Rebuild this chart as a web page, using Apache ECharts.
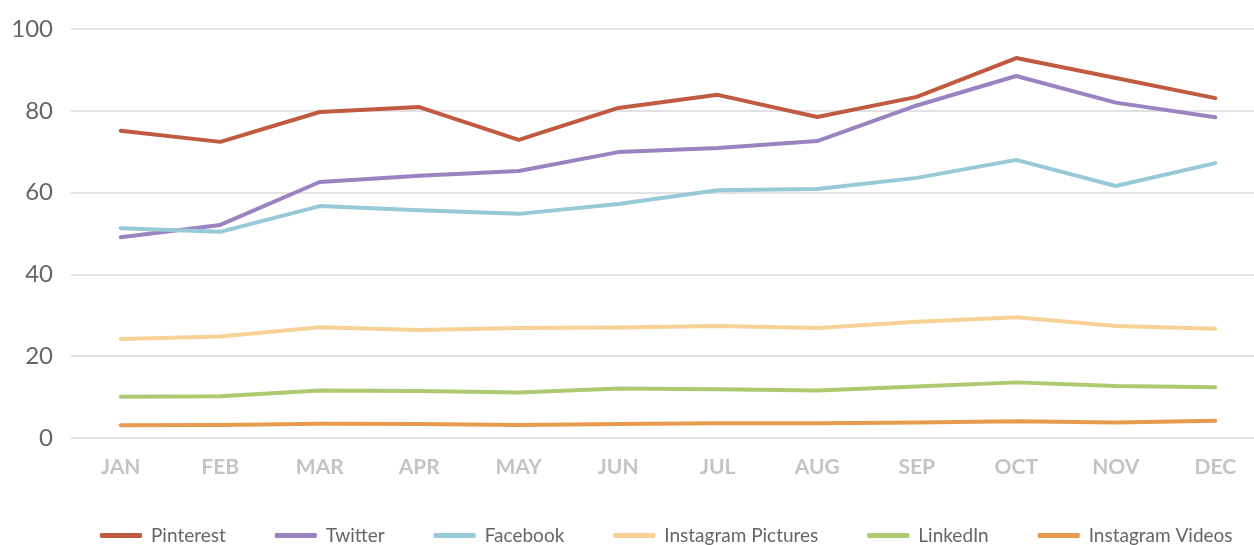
<!DOCTYPE html>
<html>
<head>
<meta charset="utf-8">
<script src="https://cdn.jsdelivr.net/npm/echarts@6/dist/echarts.min.js"></script>
<style>
  html, body { margin: 0; padding: 0; background: #fff; overflow: hidden; }
  #chart { width: 1265px; height: 545px; }
</style>
</head>
<body>
<div id="chart"></div>
<script>
var months = ['JAN', 'FEB', 'MAR', 'APR', 'MAY', 'JUN', 'JUL', 'AUG', 'SEP', 'OCT', 'NOV', 'DEC'];
var pinterest = [75.1, 72.4, 79.7, 80.9, 72.9, 80.7, 83.9, 78.5, 83.4, 92.9, 88.0, 83.1];
var twitter = [49.1, 52.1, 62.6, 64.1, 65.3, 69.9, 70.9, 72.6, 81.3, 88.5, 82.0, 78.4];
var facebook = [51.3, 50.4, 56.7, 55.7, 54.8, 57.2, 60.6, 60.9, 63.6, 68.0, 61.6, 67.2];
var instaPictures = [24.2, 24.8, 27.1, 26.4, 26.9, 27.0, 27.4, 26.9, 28.4, 29.5, 27.4, 26.7];
var linkedin = [10.1, 10.2, 11.6, 11.5, 11.1, 12.1, 11.9, 11.6, 12.6, 13.6, 12.7, 12.4];
var instaVideos = [3.1, 3.2, 3.5, 3.4, 3.2, 3.4, 3.6, 3.6, 3.8, 4.1, 3.8, 4.2];

// the plot area runs a little past the right edge of the window, as in the original
var chart = echarts.init(document.getElementById('chart'));

function line(name, data, color) {
  return {
    name: name,
    type: 'line',
    data: data,
    showSymbol: false,
    symbol: 'none',
    lineStyle: { color: color, width: 4, cap: 'round', join: 'round' },
    itemStyle: { color: color }
  };
}

var option = {
  animation: false,
  textStyle: { fontFamily: 'Lato' },
  grid: { left: 71, top: 29, right: 0, height: 409 },
  legend: {
    bottom: 0,
    left: 100,
    padding: 0,
    icon: 'roundRect',
    itemWidth: 42,
    itemHeight: 5,
    itemGap: 49,
    textStyle: { color: '#666', fontSize: 19, fontFamily: 'Lato', padding: [0, 0, 0, 4] },
    data: ['Pinterest', 'Twitter', 'Facebook', 'Instagram Pictures', 'LinkedIn', 'Instagram Videos']
  },
  xAxis: {
    type: 'category',
    data: months,
    axisLine: { show: false },
    axisTick: { show: false },
    axisLabel: { color: '#c4c4c4', fontSize: 21, fontWeight: 'bold', margin: 19, fontFamily: 'Lato' }
  },
  yAxis: {
    type: 'value',
    min: 0,
    max: 100,
    interval: 20,
    axisLabel: { color: '#666', fontSize: 24, margin: 18, fontFamily: 'Lato' },
    splitLine: { lineStyle: { color: '#e2e2e2', width: 2 } }
  },
  series: [
    line('Pinterest', pinterest, '#c05a40'),
    line('Twitter', twitter, '#9b83c1'),
    line('Facebook', facebook, '#97c9d7'),
    line('Instagram Pictures', instaPictures, '#f8d196'),
    line('LinkedIn', linkedin, '#afc970'),
    line('Instagram Videos', instaVideos, '#e69c4c')
  ]
};

chart.setOption(option);
</script>
</body>
</html>
